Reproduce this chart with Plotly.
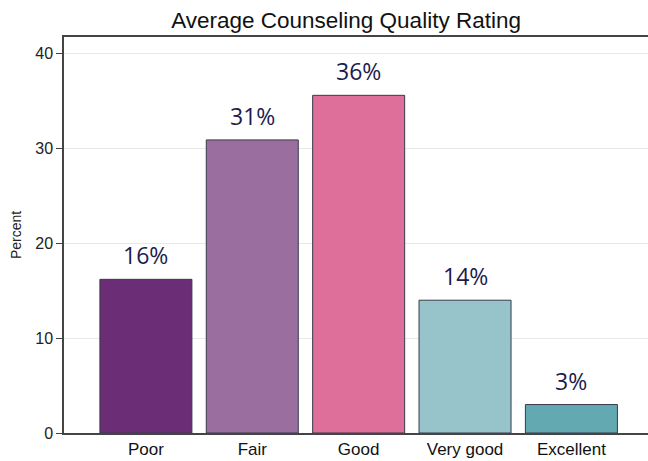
import plotly.graph_objects as go

categories = ["Poor", "Fair", "Good", "Very good", "Excellent"]
percent = [16.2, 30.9, 35.6, 14.0, 3.0]
labels = ["16%", "31%", "36%", "14%", "3%"]
colors = ["#6b2d75", "#9a6fa0", "#de6f9b", "#97c4ca", "#63a9b1"]

fig = go.Figure(go.Bar(
    x=categories, y=percent,
    marker=dict(color=colors, line=dict(color="#3a3a4a", width=1)),
    hoverinfo="skip",
))

for c, v, t in zip(categories, percent, labels):
    fig.add_annotation(x=c, y=v, text=t, showarrow=False, yanchor="bottom", yshift=6,
                       font=dict(family="Open Sans, Lato, sans-serif", size=23, color="#1c1c4e"))

fig.update_layout(
    width=648, height=461,
    margin=dict(l=64, r=0, t=37, b=28),
    paper_bgcolor="white", plot_bgcolor="white",
    bargap=0.135,
    showlegend=False,
    title=dict(text="Average Counseling Quality Rating", x=0.534, xref="container",
               xanchor="center", y=0.957, yref="container", yanchor="middle",
               font=dict(family="Liberation Sans, Arial, sans-serif", size=22.5, color="#111")),
    font=dict(family="Liberation Sans, Arial, sans-serif", color="#222"),
)
fig.update_xaxes(range=[-0.77, 4.72], showline=True, linecolor="#444", linewidth=2,
                 mirror=True, ticks="", tickfont=dict(size=17, color="#111"),
                 showgrid=False)
fig.update_yaxes(range=[0, 41.75], tickvals=[0, 10, 20, 30, 40], showline=True,
                 linecolor="#444", linewidth=1.5, ticks="outside", ticklen=6,
                 tickcolor="#444", tickfont=dict(size=16, color="#222"),
                 showgrid=True, gridcolor="#e8e8e8", gridwidth=1, zeroline=False,
                 title=dict(text="Percent", font=dict(size=14, color="#222"), standoff=10))

fig.write_html("out.html", config={"displayModeBar": False},
               post_script="document.body.style.margin='0px';")
